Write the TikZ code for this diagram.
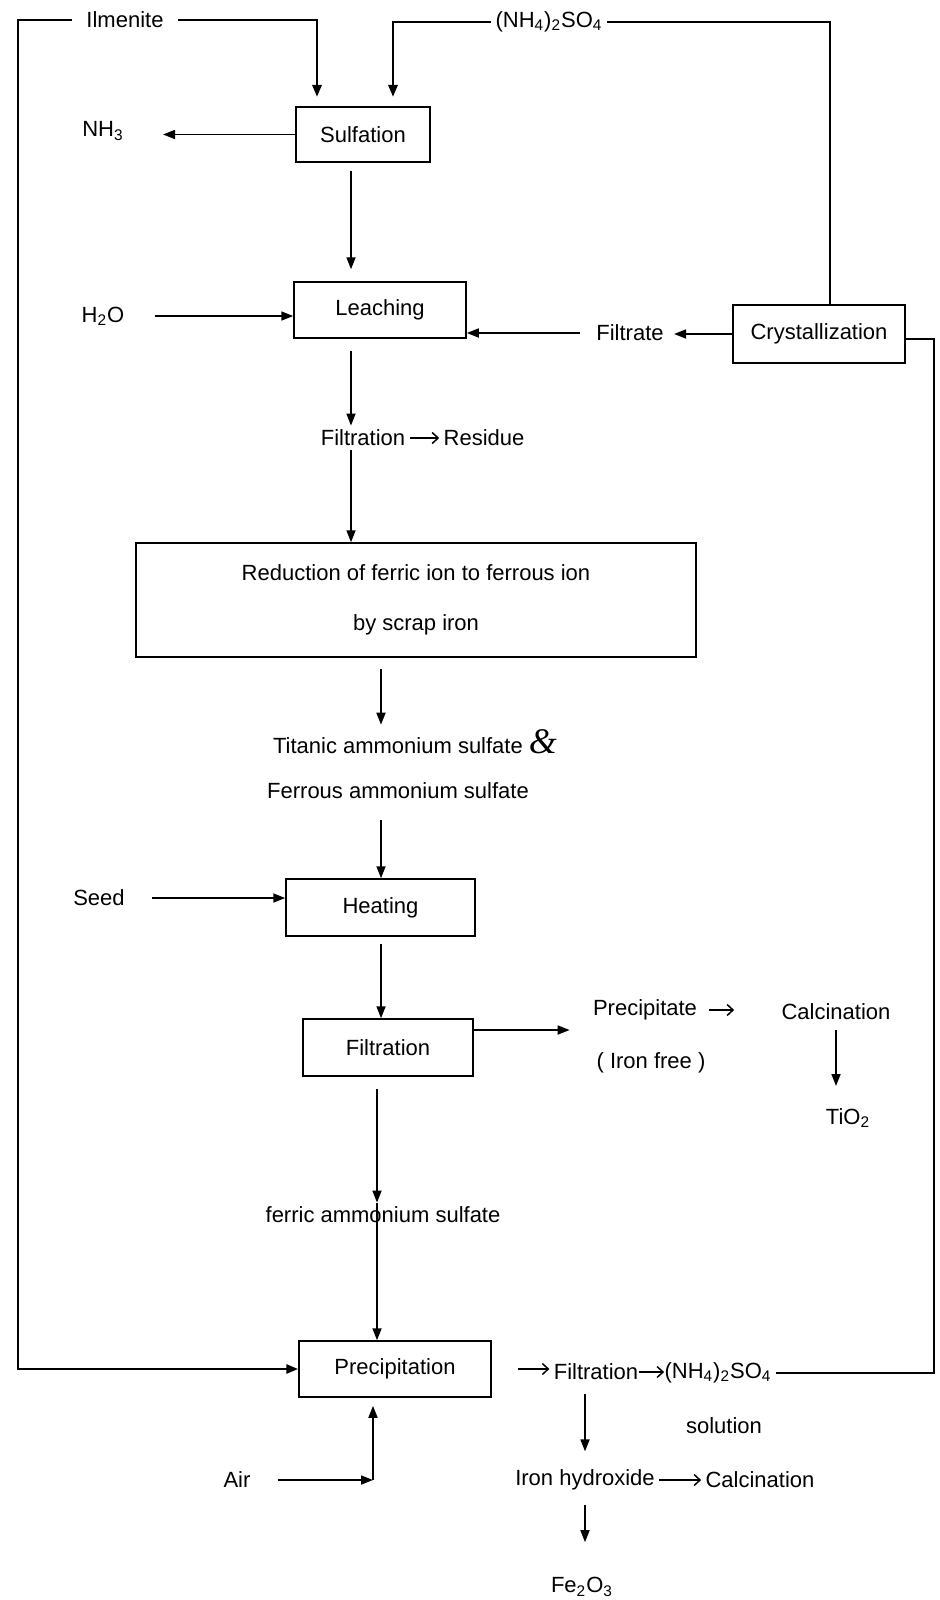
\documentclass[tikz,border=0pt]{standalone}
\usepackage{fontspec}
\setmainfont{Liberation Sans}
\newfontfamily\ampfont{Liberation Serif}
\usetikzlibrary{arrows.meta}

\begin{document}
\begin{tikzpicture}[x=0.5pt, y=-0.5pt,
  box/.style={rectangle, draw, line width=0.75pt, inner sep=0pt, font=\fontsize{11}{13}\selectfont},
  lbl/.style={inner sep=2pt, font=\fontsize{11}{13}\selectfont},
  arr/.style={-{Triangle[length=6pt,width=4.5pt]}, line width=0.85pt},
  recycle/.style={line width=1.4pt},
  txtarr/.style={-{Straight Barb[length=3pt,width=5.5pt]}, line width=0.75pt}]
\useasboundingbox (0,0) rectangle (940,1600);

\node (sulf) [box, minimum width=67pt, minimum height=27.5pt] at (363,134.5) {Sulfation};
\node (leach) [box, minimum width=86pt, minimum height=28pt] at (380,310) {Leaching};
\node (cryst) [box, minimum width=86pt, minimum height=29pt] at (819,334) {Crystallization};
\node (redu) [box, minimum width=280pt, minimum height=57pt, align=center, font=\fontsize{11}{25}\selectfont] at (416,600) {Reduction of ferric ion to ferrous ion\\by scrap iron};
\node (heat) [box, minimum width=94.5pt, minimum height=28.5pt] at (380.5,907.5) {Heating};
\node (filt) [box, minimum width=85pt, minimum height=28.5pt] at (388,1047.5) {Filtration};
\node (prec) [box, minimum width=96pt, minimum height=28pt] at (395,1369) {Precipitation};

\node (ilm) [lbl, inner xsep=7pt] at (125,20) {Ilmenite};
\node (amsulf) [lbl] at (549,22) {(NH\textsubscript{4})\textsubscript{2}SO\textsubscript{4}};
\node (nhthree) [lbl] at (103,131) {NH\textsubscript{3}};
\node (water) [lbl] at (103,316) {H\textsubscript{2}O};
\node (filtrate) [lbl] at (630,333) {Filtrate};
\node (filtr) [lbl] at (363,438) {Filtration};
\node (resid) [lbl] at (484,438) {Residue};
\node (titanic) [lbl, anchor=base] at (415,753) {Titanic ammonium sulfate {\ampfont\itshape\fontsize{18}{18}\selectfont\&}};
\node (ferrous) [lbl] at (398,791) {Ferrous ammonium sulfate};
\node (seed) [lbl] at (99,898) {Seed};
\node (precip) [lbl] at (645,1010) {Precipitate};
\node (calc) [lbl] at (836,1012) {Calcination};
\node (ironfree) [lbl] at (651,1063) {( Iron free )};
\node (tio) [lbl] at (848,1118) {TiO\textsubscript{2}};
\node (ferric) [lbl] at (383,1215) {ferric ammonium sulfate};
\node (air) [lbl] at (237,1480) {Air};
\node (filtb) [lbl] at (596,1372) {Filtration};
\node (amsolb) [lbl] at (718,1373) {(NH\textsubscript{4})\textsubscript{2}SO\textsubscript{4}};
\node (solution) [lbl] at (724,1426) {solution};
\node (hydrox) [lbl] at (585,1480) {Iron hydroxide};
\node (calcb) [lbl] at (760,1480) {Calcination};
\node (feo) [lbl] at (582,1587) {Fe\textsubscript{2}O\textsubscript{3}};

\coordinate (lcorner) at (18,20);
\coordinate (rcorner) at (934,339);
\coordinate (ilmin) at (317,97);
\coordinate (amin) at (393,97);
\coordinate (colA) at (351,0);
\coordinate (colB) at (381,0);
\coordinate (colC) at (377,0);
\coordinate (aircorner) at (373,1480);

\draw[arr, recycle] (ilm.west) -- (lcorner) |- (prec.west);
\draw[arr, recycle] (ilm.east) -| (ilmin);
\draw[arr, recycle] (amsulf.west) -| (amin);
\draw[recycle] (amsulf.east) -| ([xshift=5.5pt]cryst.north);
\draw[recycle] (amsolb.east) -| (rcorner) -- ([yshift=-2.5pt]cryst.east);

\draw[arr, shorten >=17.5pt] (sulf.west) -- (sulf.west -| nhthree.east);
\draw[arr, shorten <=4pt, shorten >=6pt] (sulf.south -| colA) -- (leach.north -| colA);
\draw[arr, shorten <=13pt] (water.east) -- (water.east -| leach.west);
\draw[arr, shorten >=3pt] (cryst.west) -- (cryst.west -| filtrate.east);
\draw[arr, shorten <=6pt] (filtrate.west) -- (filtrate.west -| leach.east);
\draw[arr, shorten <=6pt] (leach.south -| colA) -- (filtr.north -| colA);
\draw[arr] (filtr.south -| colA) -- (redu.north -| colA);
\draw[txtarr] (filtr.east) -- (resid.west);

\draw[arr, shorten <=5.5pt] (redu.south -| colB) -- (titanic.north -| colB);
\draw[arr, shorten <=8.5pt] (ferrous.south -| colB) -- (heat.north -| colB);
\draw[arr, shorten <=11.5pt] (seed.east) -- (seed.east -| heat.west);
\draw[arr, shorten <=3.5pt] (heat.south -| colB) -- (filt.north -| colB);
\draw[arr, shorten >=9.5pt] ([yshift=8.75pt]filt.east) -- ([yshift=8.75pt]filt.east -| precip.west);
\draw[txtarr, shorten <=4pt, shorten >=21.5pt] (precip.east) -- (precip.east -| calc.west);
\draw[arr, shorten <=3pt, shorten >=9pt] (calc.south) -- (calc.south |- tio.north);

\draw[arr, shorten <=6pt] (filt.south -| colC) -- (ferric.north -| colC);
\draw[arr] (ferric.north -| colC) -- (prec.north -| colC);
\draw[arr, shorten <=11.5pt] (air.east) -- (aircorner);
\draw[arr, shorten >=4pt] (aircorner) -- (aircorner |- prec.south);
\draw[txtarr, shorten <=13pt] (prec.east) -- (prec.east -| filtb.west);
\draw[txtarr, shorten <=-2pt, shorten >=-2pt] (filtb.east) -- (filtb.east -| amsolb.west);
\draw[arr, shorten <=5pt, shorten >=7pt] (filtb.south -| hydrox) -- (hydrox.north);
\draw[txtarr] (hydrox.east) -- (calcb.west);
\draw[arr, shorten <=5pt, shorten >=15.5pt] (hydrox.south) -- (hydrox.south |- feo.north);
\end{tikzpicture}
\end{document}
